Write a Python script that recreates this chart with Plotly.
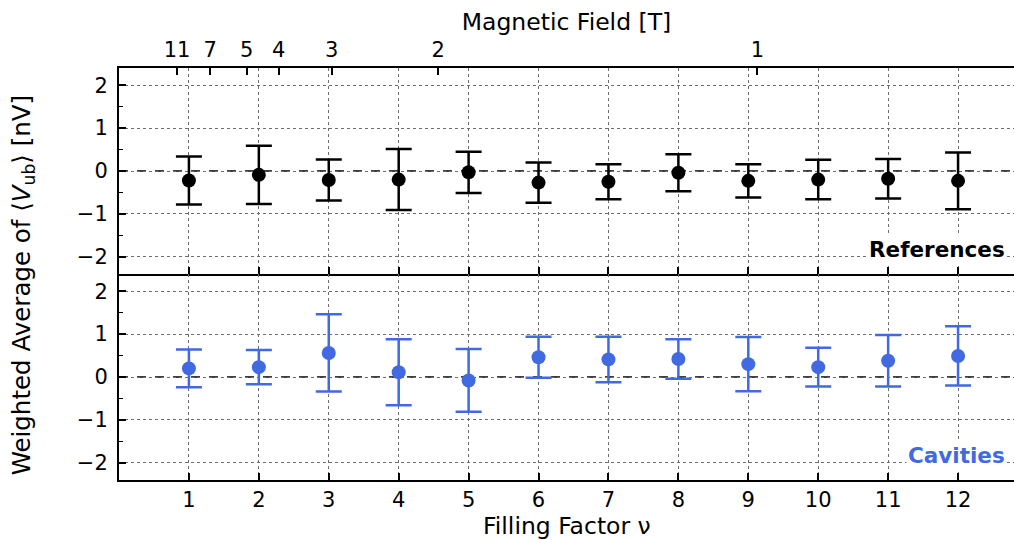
import plotly.graph_objects as go
from plotly.subplots import make_subplots

# Filling factors and weighted averages of <V_ub> (nV) with their uncertainties
filling_factor = [1, 2, 3, 4, 5, 6, 7, 8, 9, 10, 11, 12]

ref_mean = [-0.22, -0.09, -0.21, -0.20, -0.03, -0.27, -0.25, -0.04, -0.23, -0.20, -0.18, -0.23]
ref_err = [0.56, 0.68, 0.48, 0.71, 0.48, 0.47, 0.41, 0.43, 0.39, 0.46, 0.46, 0.66]

cav_mean = [0.20, 0.23, 0.56, 0.11, -0.08, 0.46, 0.41, 0.42, 0.30, 0.23, 0.38, 0.49]
cav_err = [0.44, 0.40, 0.90, 0.77, 0.73, 0.48, 0.53, 0.46, 0.63, 0.45, 0.60, 0.69]

# Magnetic field values shown on the top axis; nu = NU_TIMES_B / B
field_ticks = [11, 7, 5, 4, 3, 2, 1]
NU_TIMES_B = 9.13

y_ticks = [-2, -1, 0, 1, 2]

X_RANGE = [0, 12.80]
Y_RANGE = [-2.4, 2.4]

FONT = "DejaVu Sans"
BLACK = "#000000"
BLUE = "#4169E1"
TICK_SIZE = 21
TITLE_SIZE = 23.5

fig = make_subplots(rows=2, cols=1, shared_xaxes=True, vertical_spacing=0)


def add_series(y, err, color, row):
    fig.add_trace(
        go.Scatter(
            x=filling_factor,
            y=y,
            mode="markers",
            marker=dict(color=color, size=14),
            error_y=dict(type="data", array=err, visible=True,
                         color=color, thickness=2.5, width=13),
            showlegend=False,
        ),
        row=row, col=1,
    )


add_series(ref_mean, ref_err, BLACK, 1)
add_series(cav_mean, cav_err, BLUE, 2)

# dashed zero reference in both panels
for r in (1, 2):
    fig.add_hline(y=0, line=dict(color=BLACK, width=1.3, dash="dash"),
                  layer="below", row=r, col=1)

# placeholder trace so the secondary (top) axis is rendered
fig.add_trace(go.Scatter(x=[None], y=[None], xaxis="x3", yaxis="y",
                         showlegend=False, hoverinfo="skip"))

axis_common = dict(
    showline=True, linecolor=BLACK, linewidth=2,
    ticks="inside", ticklen=7, tickwidth=1.5, tickcolor=BLACK,
    showgrid=True, gridcolor="#6e6e6e", griddash="dot", gridwidth=1,
    zeroline=False, automargin=False,
    tickfont=dict(family=FONT, size=TICK_SIZE, color=BLACK),
)

fig.update_xaxes(
    range=X_RANGE, tickmode="array", tickvals=filling_factor,
    **axis_common,
)
fig.update_xaxes(showticklabels=False, row=1, col=1)
fig.update_xaxes(ticklabelstandoff=0, row=2, col=1)

fig.update_yaxes(
    range=Y_RANGE, tickmode="array", tickvals=y_ticks,
    minor=dict(ticks="inside", ticklen=4, tickwidth=1.2, tickcolor=BLACK,
               dtick=0.5, tick0=0, showgrid=False),
    ticklabelstandoff=5,
    **axis_common,
)

fig.update_layout(
    xaxis3=dict(
        overlaying="x", anchor="y", side="top",
        range=X_RANGE, tickmode="array",
        tickvals=[NU_TIMES_B / b for b in field_ticks],
        ticktext=[str(b) for b in field_ticks],
        showline=True, linecolor=BLACK, linewidth=2,
        ticks="inside", ticklen=7, tickwidth=1.5, tickcolor=BLACK,
        showgrid=False, zeroline=False, automargin=False, ticklabelstandoff=1,
        tickfont=dict(family=FONT, size=TICK_SIZE, color=BLACK),
        title=dict(text="Magnetic Field [T]", standoff=0,
                   font=dict(family=FONT, size=TITLE_SIZE, color=BLACK)),
    ),
    width=1014, height=540,
    margin=dict(l=119, r=0, t=68, b=60),
    paper_bgcolor="white", plot_bgcolor="white",
    font=dict(family=FONT, color=BLACK),
    annotations=[
        dict(text="Filling Factor ν",
             xref="paper", yref="paper", x=0.5, y=-0.111,
             showarrow=False, xanchor="center", yanchor="middle",
             font=dict(family=FONT, size=TITLE_SIZE, color=BLACK)),
        dict(text="Weighted Average of ⟨<i>V</i><sub>ub</sub>⟩ [nV]",
             xref="paper", yref="paper", x=-0.107, y=0.473,
             textangle=-90, showarrow=False, xanchor="center", yanchor="middle",
             font=dict(family=FONT, size=24.5, color=BLACK)),
        dict(text="<b>References</b>", xref="x domain", yref="y domain",
             x=0.992, y=0.121, xanchor="right", yanchor="middle",
             showarrow=False, bgcolor="white", borderpad=1,
             font=dict(family=FONT, size=21.5, color=BLACK)),
        dict(text="<b>Cavities</b>", xref="x2 domain", yref="y2 domain",
             x=0.992, y=0.117, xanchor="right", yanchor="middle",
             showarrow=False, bgcolor="white", borderpad=1,
             font=dict(family=FONT, size=21.5, color=BLUE)),
    ],
)

fig.write_html("out.html")
